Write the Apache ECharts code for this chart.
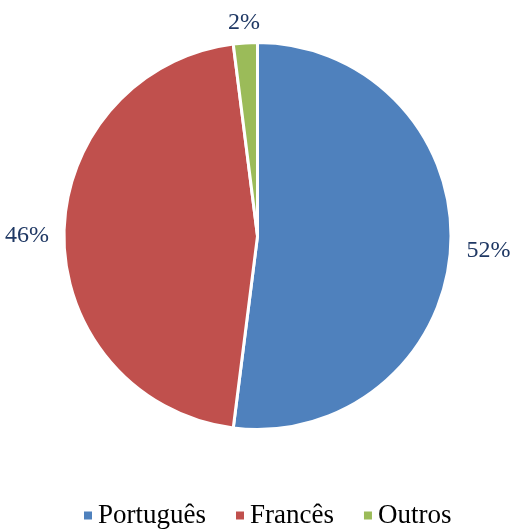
<!DOCTYPE html>
<html>
<head>
<meta charset="utf-8">
<script src="https://cdn.jsdelivr.net/npm/echarts@6/dist/echarts.min.js"></script>
<style>
	html, body { margin: 0; padding: 0; background: #fff; }
	#chart { width: 515px; height: 529px; }
</style>
</head>
<body>
<div id="chart"></div>
<script>
// idiomas
var categorias = ['Português', 'Francês', 'Outros'];
var valores = [52, 46, 2];
var cores = ['#4F81BD', '#C0504D', '#9BBB59'];

var fonte = "'Liberation Serif', 'Times New Roman', serif";
var cx = 257.5, cy = 236, raio = 193.5;

var total = valores.reduce(function (a, b) { return a + b; }, 0);
// angulo do meio de cada fatia (a partir do topo, sentido horario)
var meios = [];
var acum = 0;
valores.forEach(function (v) {
	meios.push((acum + v / 2) / total * 2 * Math.PI);
	acum += v;
});

var dados = categorias.map(function (nome, i) {
	return { name: nome, value: valores[i], itemStyle: { color: cores[i] } };
});

var grafico = echarts.init(document.getElementById('chart'));
var option = {
	animation: false,
	legend: {
		bottom: -5,
		left: 77,
		icon: 'rect',
		itemWidth: 10,
		itemHeight: 10,
		itemGap: 28,
		textStyle: {
			fontFamily: fonte,
			fontSize: 27,
			color: '#000'
		},
		data: categorias
	},
	series: [
		{
			type: 'pie',
			center: [cx, cy],
			radius: raio,
			startAngle: 90,
			clockwise: true,
			data: dados,
			itemStyle: {
				borderColor: '#fff',
				borderWidth: 3
			},
			label: {
				show: true,
				position: 'outside',
				formatter: '{d}%',
				fontFamily: fonte,
				fontSize: 24,
				color: '#1F3864',
				overflow: 'none'
			},
			labelLine: {
				show: false
			},
			// rotulo fora da fatia, como no excel
			labelLayout: function (p) {
				var a = meios[p.dataIndex];
				var dx = Math.sin(a), dy = -Math.cos(a);
				var ext = Math.abs(dx) * (p.labelRect.width / 2 + 15) + Math.abs(dy) * (p.labelRect.height / 2 + 6);
				var d = raio + ext;
				return {
					x: cx + d * dx,
					y: cy + d * dy,
					align: 'center',
					verticalAlign: 'middle'
				};
			}
		}
	]
};
grafico.setOption(option);
</script>
</body>
</html>
